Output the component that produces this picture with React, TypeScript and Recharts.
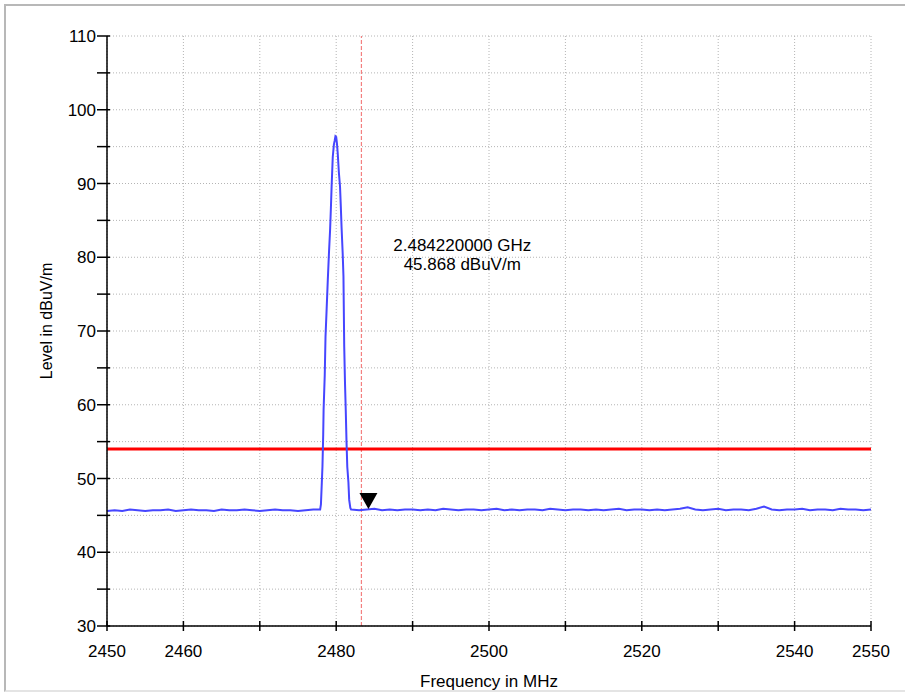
import { LineChart, Line, XAxis, YAxis, CartesianGrid, ReferenceLine, ReferenceDot } from 'recharts';

// Noise floor below the carrier, one sample per MHz from 2450 MHz
const LOW_FLOOR_START = 2450;
const LOW_FLOOR = [
  45.6, 45.7, 45.6, 45.8, 45.7, 45.6, 45.7, 45.7, 45.8, 45.6,
  45.7, 45.8, 45.7, 45.7, 45.6, 45.8, 45.7, 45.7, 45.8, 45.7,
  45.6, 45.7, 45.8, 45.7, 45.7, 45.6, 45.7, 45.8,
];

// Carrier around 2480 MHz
const PEAK_FREQS = [
  2477.9, 2478.0, 2478.1, 2478.2, 2478.3, 2478.35, 2478.5, 2478.6, 2478.75, 2478.9,
  2479.05, 2479.2, 2479.3, 2479.4, 2479.55, 2479.7, 2479.8, 2479.9, 2480.0, 2480.1,
  2480.2, 2480.35, 2480.5, 2480.6, 2480.7, 2480.85, 2480.95, 2481.05, 2481.15, 2481.25,
  2481.35, 2481.45, 2481.6, 2481.7, 2481.85, 2481.95,
];
const PEAK_LEVELS = [
  45.8, 46.5, 49.0, 51.6, 56.0, 59.3, 64.0, 69.2, 73.0, 76.9,
  80.5, 83.7, 86.5, 89.6, 93.6, 95.3, 95.8, 96.4, 96.3, 95.4,
  94.1, 91.5, 89.6, 87.0, 84.1, 80.5, 77.4, 67.9, 63.0, 59.3,
  55.0, 51.6, 49.5, 47.1, 46.0, 45.8,
];

// Noise floor above the carrier, one sample per MHz from 2482 MHz
const HIGH_FLOOR_START = 2482;
const HIGH_FLOOR = [
  45.8, 45.7, 45.8, 45.9, 45.7, 45.8, 45.7, 45.8, 45.8, 45.7,
  45.8, 45.7, 45.9, 45.8, 45.7, 45.8, 45.8, 45.7, 45.8, 45.9,
  45.7, 45.8, 45.7, 45.8, 45.8, 45.7, 45.9, 45.8, 45.7, 45.8,
  45.8, 45.7, 45.8, 45.7, 45.8, 45.9, 45.7, 45.8, 45.8, 45.7,
  45.8, 45.7, 45.8, 45.9, 46.1, 45.8, 45.7, 45.8, 45.9, 45.7,
  45.8, 45.8, 45.7, 45.9, 46.2, 45.8, 45.7, 45.8, 45.8, 45.9,
  45.7, 45.8, 45.8, 45.7, 45.9, 45.8, 45.8, 45.7, 45.8,
];

const X_TICKS = [2450, 2460, 2470, 2480, 2490, 2500, 2510, 2520, 2530, 2540, 2550];
const X_LABELED = [2450, 2460, 2480, 2500, 2520, 2540, 2550];
const Y_TICKS = [30, 35, 40, 45, 50, 55, 60, 65, 70, 75, 80, 85, 90, 95, 100, 105, 110];
const Y_LABELED = [30, 40, 50, 60, 70, 80, 90, 100, 110];

const LIMIT = 54;
const BAND_EDGE = 2483.3;
const MARKER_FREQ = 2484.22;
const MARKER_LEVEL = 45.868;
const MARKER_TEXT = ['2.484220000 GHz', '45.868 dBuV/m'];

const FONT = '"Liberation Sans", Arial, sans-serif';

const spectrum = [
  ...LOW_FLOOR.map((v, i) => ({ freq: LOW_FLOOR_START + i, level: v })),
  ...PEAK_FREQS.map((f, i) => ({ freq: f, level: PEAK_LEVELS[i] })),
  ...HIGH_FLOOR.map((v, i) => ({ freq: HIGH_FLOOR_START + i, level: v })),
];

function XTick({ x, y, payload }: any) {
  const show = X_LABELED.includes(payload.value);
  return (
    <g>
      <line x1={x} x2={x} y1={y - 5} y2={y + 5} stroke="#000" strokeWidth={1.5} />
      {show && (
        <text x={x} y={y + 31} textAnchor="middle" fontSize={17} fontFamily={FONT} fill="#000">
          {payload.value}
        </text>
      )}
    </g>
  );
}

function YTick({ x, y, payload }: any) {
  const show = Y_LABELED.includes(payload.value);
  return (
    <g>
      <line x1={x - 10} x2={x + 3} y1={y} y2={y} stroke="#000" strokeWidth={1.5} />
      {show && (
        <text x={x - 11} y={y + 6} textAnchor="end" fontSize={17} fontFamily={FONT} fill="#000">
          {payload.value}
        </text>
      )}
    </g>
  );
}

function MarkerTriangle({ cx, cy }: any) {
  return <path d={`M${cx - 9},${cy - 16} L${cx + 9},${cy - 16} L${cx},${cy} Z`} fill="#000" />;
}

function MarkerText({ cx, cy }: any) {
  return (
    <g fontFamily={FONT} fontSize={17} fill="#000" textAnchor="middle">
      <text x={cx} y={cy}>{MARKER_TEXT[0]}</text>
      <text x={cx} y={cy + 19}>{MARKER_TEXT[1]}</text>
    </g>
  );
}

export default function App() {
  return (
    <div style={{ position: 'absolute', left: 0, top: 0, width: 905, height: 692, background: '#fff' }}>
      <div
        style={{
          position: 'absolute', left: 4, top: 4, width: 901, height: 684,
          borderLeft: '2px solid #b8b8b8', borderTop: '2px solid #b8b8b8', borderBottom: '2px solid #e4e4e4',
        }}
      />
      <LineChart
        width={905}
        height={692}
        data={spectrum}
        margin={{ top: 36, right: 34, left: 47, bottom: 26 }}
        style={{ position: 'absolute', left: 0, top: 0 }}
      >
        <CartesianGrid stroke="#b4b4b4" strokeDasharray="1 2" />
        <XAxis
          type="number"
          dataKey="freq"
          domain={[2450, 2550]}
          ticks={X_TICKS}
          interval={0}
          height={40}
          tickSize={0}
          tickMargin={0}
          tickLine={false}
          axisLine={{ stroke: '#000', strokeWidth: 1.5 }}
          tick={<XTick />}
          label={{
            content: ({ viewBox }: any) => (
              <text
                x={viewBox.x + viewBox.width / 2}
                y={viewBox.y + 61}
                textAnchor="middle"
                fontSize={17}
                fontFamily={FONT}
                fill="#000"
              >
                Frequency in MHz
              </text>
            ),
          }}
        />
        <YAxis
          type="number"
          domain={[30, 110]}
          ticks={Y_TICKS}
          interval={0}
          width={60}
          tickSize={0}
          tickMargin={0}
          tickLine={false}
          axisLine={{ stroke: '#000', strokeWidth: 1.5 }}
          tick={<YTick />}
          label={{
            content: ({ viewBox }: any) => {
              const cx = 52;
              const cy = viewBox.y + viewBox.height / 2 - 10;
              return (
                <text
                  x={cx}
                  y={cy}
                  transform={`rotate(-90 ${cx} ${cy})`}
                  textAnchor="middle"
                  fontSize={16}
                  fontFamily={FONT}
                  fill="#000"
                >
                  Level in dBuV/m
                </text>
              );
            },
          }}
        />
        <ReferenceLine
          x={BAND_EDGE}
          stroke="#f06060"
          strokeOpacity={0.8}
          strokeDasharray="4 2"
          strokeWidth={1.2}
        />
        <ReferenceLine y={LIMIT} stroke="#ff0000" strokeWidth={3} />
        <Line
          type="linear"
          dataKey="level"
          stroke="#4646ff"
          strokeWidth={2}
          dot={false}
          isAnimationActive={false}
        />
        <ReferenceDot x={MARKER_FREQ} y={MARKER_LEVEL} shape={<MarkerTriangle />} />
        <ReferenceDot x={2496.5} y={80.9} shape={<MarkerText />} />
      </LineChart>
    </div>
  );
}
